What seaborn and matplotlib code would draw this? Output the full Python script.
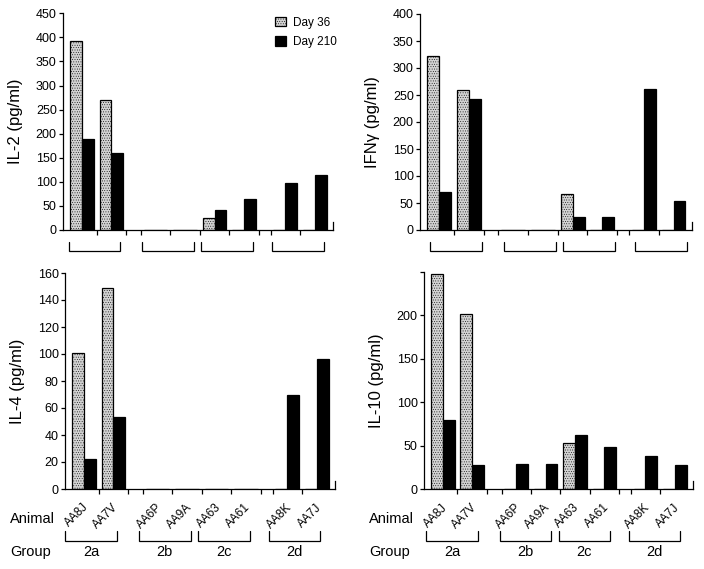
import numpy as np
import pandas as pd
import matplotlib
matplotlib.use('Agg')
import matplotlib.pyplot as plt
import matplotlib.transforms as mtransforms
from matplotlib.patches import Patch
import seaborn as sns

# ---------------- data ----------------
animals = ['AA8J', 'AA7V', 'AA6P', 'AA9A', 'AA63', 'AA61', 'AA8K', 'AA7J']
groups = ['2a', '2a', '2b', '2b', '2c', '2c', '2d', '2d']
group_names = ['2a', '2b', '2c', '2d']
days = ['Day 36', 'Day 210']

il2_d36 = [393, 270, 0, 0, 24, 0, 0, 0]
il2_d210 = [188, 159, 0, 0, 42, 64, 97, 115]
ifng_d36 = [322, 260, 0, 0, 67, 0, 0, 0]
ifng_d210 = [70, 242, 0, 0, 25, 25, 261, 54]
il4_d36 = [101, 149, 0, 0, 0, 0, 0, 0]
il4_d210 = [22, 53, 0, 0, 0, 0, 70, 96]
il10_d36 = [248, 202, 0, 0, 53, 0, 0, 0]
il10_d210 = [79, 28, 29, 29, 62, 48, 38, 28]

# ---------------- layout ----------------
x_pos = [0, 1, 2.5, 3.5, 4.5, 5.5, 6.9, 7.9]   # animal slot positions

sns.set_theme(style='white')
plt.rcParams['font.family'] = ['Liberation Sans', 'DejaVu Sans']
plt.rcParams['hatch.linewidth'] = 0.3
plt.rcParams['axes.linewidth'] = 0.9
for k in ['text.color', 'axes.labelcolor', 'xtick.color', 'ytick.color', 'axes.edgecolor']:
    plt.rcParams[k] = 'black'

W, H = 704, 569
fig = plt.figure(figsize=(W / 100, H / 100), dpi=100)


def px_axes(left, right, top, bottom):
    return fig.add_axes([left / W, 1 - bottom / H, (right - left) / W, (bottom - top) / H])


pal = {'Day 36': '#d2d2d2', 'Day 210': '#000000'}


def panel(ax, d36, d210, ylabel, ymax, yticks, ytlabels, bshift, bracket_y, labels=False):
    df = pd.DataFrame({
        'x': list(x_pos) + list(x_pos),
        'day': ['Day 36'] * len(d36) + ['Day 210'] * len(d210),
        'val': list(d36) + list(d210),
    })
    sns.barplot(data=df, x='x', y='val', hue='day', hue_order=days, palette=pal,
                native_scale=True, width=0.8, errorbar=None, ax=ax,
                edgecolor='black', linewidth=0.9, saturation=1, legend=False)
    for p in ax.patches:
        fc = p.get_facecolor()
        if fc[0] > 0.5:
            p.set_hatch('.......')
    ax.set_xlim(-0.64, 8.52)
    ax.set_ylim(0, ymax)
    ax.set_yticks(yticks)
    ax.set_yticklabels(ytlabels)
    ax.set_ylabel(ylabel, fontsize=12, labelpad=9)
    ax.set_xlabel('')
    ax.set_xticks([])
    # minor ticks at slot boundaries
    minor = []
    for g in group_names:
        idx = [i for i, gg in enumerate(groups) if gg == g]
        first, last = x_pos[idx[0]], x_pos[idx[-1]]
        minor.append((first + last) / 2)
        if g != group_names[0]:
            minor.append(first - 0.5)
        if g != group_names[-1]:
            minor.append(last + 0.5)
    ax.set_xticks(sorted(set(minor)), minor=True)
    ax.tick_params(axis='x', which='minor', length=3.5, width=0.9, direction='out',
                   bottom=True, labelbottom=False, color='black')
    ax.tick_params(axis='y', which='major', length=3, width=0.9, direction='out',
                   left=True, labelsize=9, pad=1.5, color='black', labelcolor='black')
    ax.spines['top'].set_visible(False)
    ax.spines['right'].set_bounds(0, ymax * 0.035)
    for s in ['left', 'bottom', 'right']:
        ax.spines[s].set_color('black')
    ax.spines['left'].set_bounds(0, ymax)
    ax.grid(False)

    trans = mtransforms.blended_transform_factory(ax.transData, ax.transAxes)
    y0, y1 = bracket_y
    for g in group_names:
        idx = [i for i, gg in enumerate(groups) if gg == g]
        start = x_pos[idx[0]] + bshift
        end = start + 1.75
        ax.plot([start, start, end, end], [y0, y1, y1, y0], color='black', lw=0.9,
                transform=trans, clip_on=False, solid_joinstyle='miter')
        if labels:
            ax.text((start + end) / 2, y1 - 0.05, g, transform=trans, ha='center',
                    va='center', fontsize=10.5, color='black')
    if labels:
        for a, xp in zip(animals, x_pos):
            ax.text(xp + 0.09, -0.076, a, transform=trans, rotation=45, ha='right',
                    va='center', rotation_mode='anchor', fontsize=8.5, color='black')


ax1 = px_axes(63, 333, 13.3, 230)
ax2 = px_axes(420, 692, 14, 230)
ax3 = px_axes(65, 335, 273, 489)
ax4 = px_axes(424, 693, 272, 489)

top_b = (-0.055, -0.097)
bot_b = (-0.194, -0.241)

panel(ax1, il2_d36, il2_d210, 'IL-2 (pg/ml)', 450, list(range(0, 451, 50)),
      [str(v) for v in range(0, 451, 50)], -0.45, top_b)
panel(ax2, ifng_d36, ifng_d210, 'IFNγ (pg/ml)', 400, list(range(0, 401, 50)),
      [str(v) for v in range(0, 401, 50)], -0.31, top_b)
panel(ax3, il4_d36, il4_d210, 'IL-4 (pg/ml)', 160, list(range(0, 161, 20)),
      [str(v) for v in range(0, 161, 20)], -0.63, bot_b, labels=True)
panel(ax4, il10_d36, il10_d210, 'IL-10 (pg/ml)', 250, list(range(0, 251, 50)),
      [str(v) for v in range(0, 201, 50)] + [''], -0.56, bot_b, labels=True)

# legend
handles = [Patch(facecolor=pal['Day 36'], edgecolor='black', hatch='.......', linewidth=0.9),
           Patch(facecolor=pal['Day 210'], edgecolor='black', linewidth=0.9)]
ax1.legend(handles, days, loc='upper left', bbox_to_anchor=(0.785, 0.985), frameon=False,
           fontsize=8.5, handlelength=0.95, handleheight=0.85, handletextpad=0.55,
           labelspacing=0.65, borderpad=0, borderaxespad=0, labelcolor='black')

# row labels
for xl in (10, 369):
    fig.text(xl / W, 1 - 519 / H, 'Animal', ha='left', va='center', fontsize=10.5)
    fig.text(xl / W, 1 - 552 / H, 'Group', ha='left', va='center', fontsize=10.5)

fig.savefig('out.png', dpi=100)
